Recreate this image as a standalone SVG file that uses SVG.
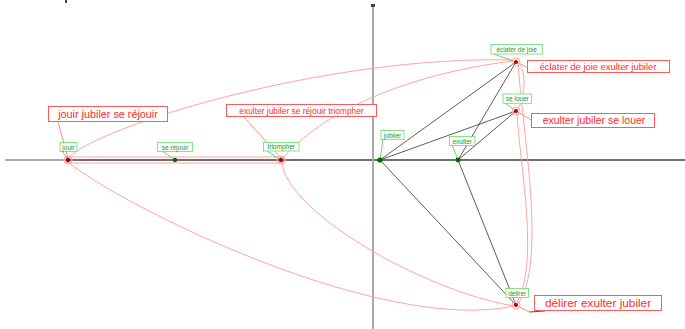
<svg xmlns="http://www.w3.org/2000/svg" width="685" height="329" viewBox="0 0 685 329">
<style>
.hull{fill:none;stroke:#ff9a9a;stroke-width:0.9}
.edge{stroke:#333;stroke-width:0.8;fill:none}
.rbox{fill:#fff;stroke:#ff5a5a;stroke-width:1}
.rtxt{fill:#ff2a2a;font-family:"Liberation Sans",Arial,sans-serif;text-anchor:middle}
.gbox{fill:#fff;stroke:#66dd66;stroke-width:0.8}
.gtxt{fill:#119911;font-family:"Liberation Sans",Arial,sans-serif;font-size:6.5px;text-anchor:middle}
.glead{stroke:#44cc44;stroke-width:0.8}
.rlead{stroke:#ff7070;stroke-width:0.8}
.rdot{fill:#b00000}
.halo{fill:none;stroke:#ffaaaa;stroke-width:1}
.gdot{fill:#006600}
</style>
<rect width="685" height="329" fill="#fff"/>
<g id="axes">
<line x1="5" y1="160" x2="685" y2="160" stroke="#aaa" stroke-width="2"/>
<line x1="68" y1="160" x2="685" y2="160" stroke="#333" stroke-width="1"/>
<line x1="373" y1="6" x2="373" y2="329" stroke="#aaa" stroke-width="2"/>
<rect x="371" y="4" width="4" height="3" fill="#444"/>
<rect x="65" y="0" width="2" height="3" fill="#444"/>
</g>
<g id="connectors">
<g id="hulls">
<rect class="hull" x="64" y="157" width="221" height="6" rx="3"/>
<path class="hull" d="M68,158 C100,125 330,55 513,60"/>
<path class="hull" d="M283,158 C320,115 400,75 513,61"/>
<path class="hull" d="M68,162 C120,205 380,335 514,306"/>
<path class="hull" d="M282,162 C285,210 420,290 514,306"/>
<path class="hull" d="M518,62 C528,72 524,100 517,111"/>
<path class="hull" d="M518,62 C522,130 548,265 517,305"/>
<path class="hull" d="M517,112 C520,170 540,262 516,305"/>
</g>
<g id="edges">
<line class="edge" x1="380" y1="160" x2="516" y2="62"/>
<line class="edge" x1="380" y1="160" x2="516" y2="111"/>
<line class="edge" x1="380" y1="160" x2="516" y2="305"/>
<line class="edge" x1="458" y1="160" x2="516" y2="62"/>
<line class="edge" x1="458" y1="160" x2="516" y2="111"/>
<line class="edge" x1="458" y1="160" x2="516" y2="305"/>
</g>
<g id="leaders">
<line class="rlead" x1="58" y1="122" x2="68" y2="158"/>
<line class="rlead" x1="243" y1="116" x2="281" y2="158"/>
<line class="rlead" x1="519" y1="63" x2="537" y2="73"/>
<line class="rlead" x1="518" y1="112" x2="543" y2="127"/>
<line class="rlead" x1="518" y1="306" x2="529" y2="312"/>
<line x1="529" y1="312" x2="545" y2="311" stroke="#dd2020" stroke-width="1.2"/>
<line class="glead" x1="62" y1="151" x2="68" y2="160"/>
<line class="glead" x1="162" y1="151" x2="175" y2="160"/>
<line class="glead" x1="267" y1="151" x2="281" y2="160"/>
<line class="glead" x1="383" y1="139" x2="380" y2="160"/>
<line class="glead" x1="452" y1="145" x2="458" y2="160"/>
<line class="glead" x1="494" y1="54" x2="516" y2="62"/>
<line class="glead" x1="505" y1="103" x2="516" y2="111"/>
<line class="glead" x1="508" y1="297" x2="516" y2="305"/>
</g>
</g>
<g id="clique-jouir">
<rect class="rbox" x="48.5" y="106.5" width="119" height="15"/>
<text class="rtxt" x="108" y="118" font-size="10.8">jouir jubiler se réjouir</text>
</g>
<g id="clique-triompher">
<rect class="rbox" x="226.5" y="104.5" width="150" height="12"/>
<text class="rtxt" x="301.5" y="114" font-size="8.4">exulter jubiler se réjouir triompher</text>
</g>
<g id="clique-eclater">
<rect class="rbox" x="527.5" y="60.5" width="142" height="12"/>
<text class="rtxt" x="598" y="70" font-size="9.4">éclater de joie exulter jubiler</text>
</g>
<g id="clique-louer">
<rect class="rbox" x="531.5" y="113.5" width="123" height="14"/>
<text class="rtxt" x="594" y="124" font-size="10.5">exulter jubiler se louer</text>
</g>
<g id="clique-delirer">
<rect class="rbox" x="534.5" y="295.5" width="127" height="15"/>
<text class="rtxt" x="598" y="307" font-size="11.8">délirer exulter jubiler</text>
</g>
<g id="node-jouir">
<circle class="halo" cx="68" cy="160" r="4"/>
<circle class="rdot" cx="68" cy="160" r="2.2"/>
<rect class="gbox" x="60" y="142.5" width="17" height="9"/>
<text class="gtxt" x="68.5" y="149.5">jouir</text>
</g>
<g id="node-se-rejouir">
<circle class="gdot" cx="175" cy="160" r="2.2"/>
<rect class="gbox" x="157.5" y="142.5" width="35" height="9"/>
<text class="gtxt" x="175" y="149.5">se réjouir</text>
</g>
<g id="node-triompher">
<circle class="halo" cx="281" cy="160" r="4"/>
<circle class="rdot" cx="281" cy="160" r="2.2"/>
<rect class="gbox" x="263.5" y="142.5" width="35.5" height="8.5"/>
<text class="gtxt" x="281.2" y="149.3">triompher</text>
</g>
<g id="node-jubiler">
<circle class="gdot" cx="380" cy="160" r="2.6"/>
<rect class="gbox" x="381" y="130.5" width="23" height="9"/>
<text class="gtxt" x="392.5" y="137.5">jubiler</text>
</g>
<g id="node-exulter">
<circle class="gdot" cx="458" cy="160" r="2.4"/>
<rect class="gbox" x="449.5" y="136.5" width="25.5" height="9"/>
<text class="gtxt" x="462.2" y="143.5">exulter</text>
</g>
<g id="node-eclater">
<circle class="halo" cx="516" cy="62" r="4"/>
<circle class="rdot" cx="516" cy="62" r="2"/>
<rect class="gbox" x="491" y="44.5" width="51.5" height="9.5"/>
<text class="gtxt" x="516.7" y="51.7">éclater de joie</text>
</g>
<g id="node-se-louer">
<circle class="halo" cx="516" cy="111" r="4"/>
<circle class="rdot" cx="516" cy="111" r="2"/>
<rect class="gbox" x="503" y="94" width="28.5" height="9.3"/>
<text class="gtxt" x="517.2" y="101.2">se louer</text>
</g>
<g id="node-delirer">
<circle class="halo" cx="516" cy="305" r="4"/>
<circle class="rdot" cx="516" cy="305" r="2"/>
<rect class="gbox" x="506" y="288.5" width="22.5" height="9"/>
<text class="gtxt" x="517.2" y="295.5">délirer</text>
</g>
</svg>
